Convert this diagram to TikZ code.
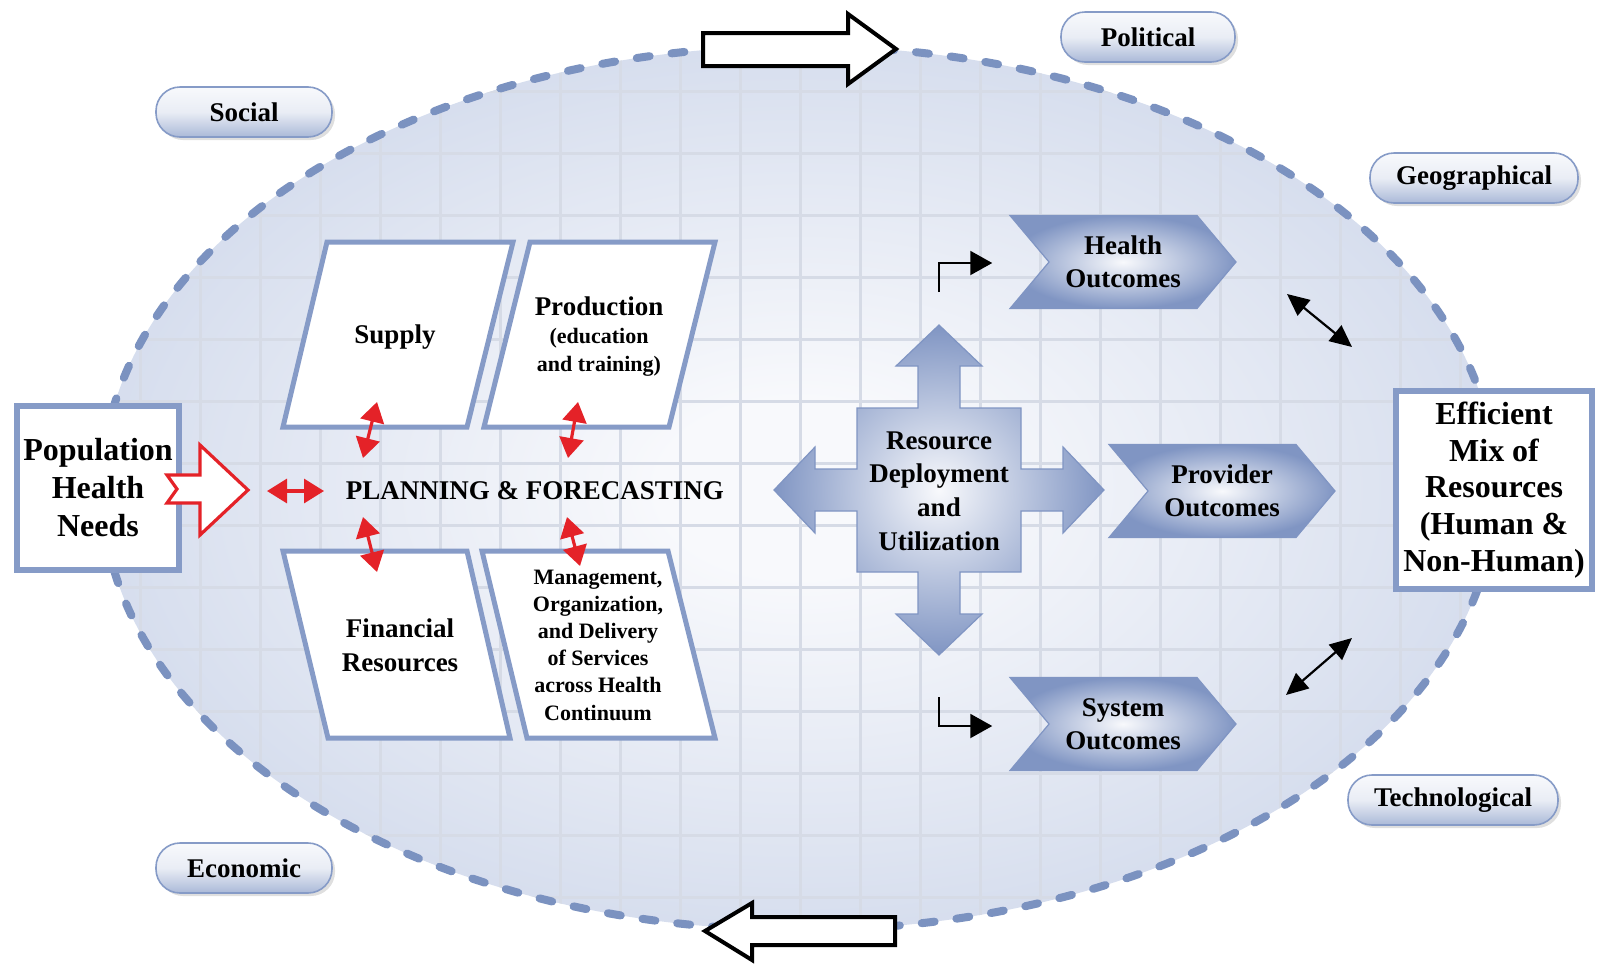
\documentclass[tikz,border=0pt]{standalone}
\usepackage{fontspec}
\setmainfont{Liberation Serif}
\usetikzlibrary{shapes.symbols, arrows.meta, positioning, shadows}

\definecolor{steel}{RGB}{134,155,199}
\definecolor{dashblue}{RGB}{123,146,192}
\definecolor{fieldedge}{RGB}{196,207,230}
\definecolor{fieldmid}{RGB}{248,249,252}
\definecolor{gridcol}{RGB}{214,219,230}
\definecolor{shapeblue}{RGB}{128,149,195}
\definecolor{arrred}{RGB}{228,34,40}

\pgfdeclareradialshading{fieldshade}{\pgfpoint{0bp}{0bp}}{%
  color(0bp)=(fieldmid); color(5bp)=(fieldmid); color(36bp)=(fieldedge); color(50bp)=(fieldedge)}

\newcommand{\smalltxt}{\fontsize{11}{13.5}\selectfont}

\begin{document}
\begin{tikzpicture}[
  x=0.5pt, y=-0.5pt,
  whitebox/.style={
    draw=steel, line width=3pt, fill=white, inner sep=0pt,
    align=center, font=\fontsize{16}{19}\selectfont\bfseries
  },
  para/.style={draw=steel, line width=2.5pt, fill=white, line join=miter},
  paratext/.style={align=center, font=\fontsize{13.5}{17}\selectfont\bfseries},
  chev/.style={
    signal, signal to=east, signal from=west, signal pointer angle=100,
    draw=shapeblue, line width=0.6pt, inner color=fieldmid, outer color=shapeblue,
    minimum width=113pt, minimum height=46.5pt, inner sep=0pt,
    align=center, font=\fontsize{13.5}{16.5}\selectfont\bfseries
  },
  pill/.style={
    rounded corners=12pt, draw=steel, line width=0.8pt,
    top color=fieldmid, bottom color=steel!70, middle color=white!82!steel,
    minimum height=25pt, font=\fontsize{13.5}{16}\selectfont\bfseries,
    drop shadow={opacity=0.25, shadow xshift=1.5pt, shadow yshift=-1.5pt}
  },
  hollow/.style={draw, line width=2pt, fill=white},
  redarr/.style={{Triangle[length=10pt,width=12pt]}-{Triangle[length=10pt,width=12pt]}, arrred, line width=1.6pt},
  blkarr/.style={{Triangle[length=11pt,width=10pt]}-{Triangle[length=11pt,width=10pt]}, line width=1.1pt},
  bent/.style={-{Triangle[length=11pt,width=12pt]}, line width=1.1pt}
]
\useasboundingbox (0,0) rectangle (1599,964);

% environment field with grid
\begin{scope}
  \clip (799,488) ellipse [x radius=697, y radius=442];
  \shade[shading=fieldshade] (799,488) ellipse [x radius=697, y radius=442];
  \foreach \x in {20,80,...,1599}
    \draw[gridcol, line width=1.5pt] (\x,0) -- (\x,964);
  \foreach \y in {29,91,...,964}
    \draw[gridcol, line width=1.5pt] (0,\y) -- (1599,\y);
\end{scope}
\draw[dashblue, line width=4pt, line cap=round, dash pattern=on 6.5pt off 11pt]
  (799,488) ellipse [x radius=697, y radius=442];

% cycle arrows on the field border
\draw[hollow] (703,33) -- (848,33) -- (848,14) -- (896,49) -- (848,84) -- (848,66) -- (703,66) -- cycle;
\draw[hollow] (895,917) -- (752,917) -- (752,903) -- (705,931) -- (752,960) -- (752,945) -- (895,945) -- cycle;

% external factors
\node[pill, minimum width=87pt] (political) at (1148,37) {Political};
\node[pill, minimum width=88pt] (social) at (244,112) {Social};
\node[pill, minimum width=104pt] (geo) at (1474,178) {Geographical};
\node[pill, minimum width=105pt] (tech) at (1453,800) {Technological};
\node[pill, minimum width=88pt] (economic) at (244,868) {Economic};

% input and output boxes
\node[whitebox, minimum width=81pt, minimum height=82pt] (need) at (98,488) {Population\\Health\\Needs};
\node[whitebox, minimum width=98pt, minimum height=99pt, font=\fontsize{16}{18.3}\selectfont\bfseries]
  (mix) at (1494,490) {Efficient\\Mix of\\Resources\\(Human \&\\Non-Human)};

\draw[arrred, line width=1.6pt, fill=white]
  (167,475) -- (200,475) -- (200,445) -- (248,490) -- (200,535) -- (200,503)
  -- (167,503) -- (177,489) -- cycle;

% planning block
\draw[para] (327,242) -- (513,242) -- (467,427) -- (283,427) -- cycle;
\draw[para] (530,242) -- (715,242) -- (669,427) -- (484,427) -- cycle;
\draw[para] (283,551) -- (467,551) -- (510,738) -- (328,738) -- cycle;
\draw[para] (482,551) -- (668,551) -- (715,738) -- (527,738) -- cycle;

\node[font=\fontsize{13.5}{16}\selectfont\bfseries] (plan) at (535,491) {PLANNING \& FORECASTING};
\node[paratext] (supply) at (395,337) {Supply};
\node[paratext, font=\fontsize{13.5}{14}\selectfont\bfseries] (prod) at (599,337)
  {Production\\\smalltxt(education\\\smalltxt and training)};
\node[paratext] (fin) at (400,645) {Financial\\Resources};
\node[paratext, font=\fontsize{11}{13.6}\selectfont\bfseries] (mgmt) at (598,645)
  {Management,\\Organization,\\and Delivery\\of Services\\across Health\\Continuum};

\coordinate (pl) at (267,491);
\coordinate (pr) at (324,491);
\coordinate (s1) at (377,402); \coordinate (s2) at (363,458);
\coordinate (p1) at (578,402); \coordinate (p2) at (568,458);
\coordinate (f1) at (363,517); \coordinate (f2) at (377,572);
\coordinate (m1) at (567,517); \coordinate (m2) at (580,566);
\draw[redarr] (pl) -- (pr);
\draw[redarr] (s1) -- (s2);
\draw[redarr] (p1) -- (p2);
\draw[redarr] (f1) -- (f2);
\draw[redarr] (m1) -- (m2);

% resource deployment cross
\shade[draw=shapeblue, line width=0.6pt, inner color=fieldmid, outer color=shapeblue, shift={(939,490)}]
  (0,-165) -- (43,-124) -- (21,-124) -- (21,-82) -- (82,-82) -- (82,-21) -- (124,-21)
  -- (124,-43) -- (165,0) -- (124,43) -- (124,21) -- (82,21) -- (82,82) -- (21,82)
  -- (21,124) -- (43,124) -- (0,165) -- (-43,124) -- (-21,124) -- (-21,82) -- (-82,82)
  -- (-82,21) -- (-124,21) -- (-124,43) -- (-165,0) -- (-124,-43) -- (-124,-21)
  -- (-82,-21) -- (-82,-82) -- (-21,-82) -- (-21,-124) -- (-43,-124) -- cycle;
\node[align=center, font=\fontsize{13.5}{16.8}\selectfont\bfseries] (rdu) at (939,491)
  {Resource\\Deployment\\and\\Utilization};

% outcomes
\node[chev] (health) at (1123,262) {Health\\Outcomes};
\node[chev] (provider) at (1222,491) {Provider\\Outcomes};
\node[chev] (system) at (1123,724) {System\\Outcomes};

\coordinate (hb) at (939,292);
\coordinate (sb) at (939,697);
\draw[bent] (hb) |- ([xshift=-28pt]health.west |- 0,263);
\draw[bent] (sb) |- ([xshift=-28pt]system.west |- 0,726);

\coordinate (ha) at (1287,294); \coordinate (hz) at (1352,347);
\coordinate (sa) at (1286,695); \coordinate (sz) at (1352,638);
\draw[blkarr] (ha) -- (hz);
\draw[blkarr] (sa) -- (sz);

\end{tikzpicture}
\end{document}
